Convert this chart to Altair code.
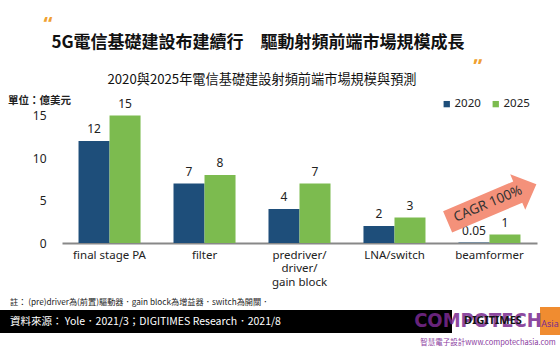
import altair as alt
import pandas as pd

# ---- data ----
categories = ["final stage PA", "filter", "predriver/ driver/ gain block", "LNA/switch", "beamformer"]
years = ["2020", "2025"]
values_2020 = [12, 7, 4, 2, 0.05]
values_2025 = [15, 8, 7, 3, 1]
y_ticks = [0, 5, 10, 15]

title_text = "5G電信基礎建設布建續行　驅動射頻前端市場規模成長"
subtitle_text = "2020與2025年電信基礎建設射頻前端市場規模與預測"
unit_text = "單位：億美元"
note_text = "註： (pre)driver為(前置)驅動器．gain block為增益器．switch為開關．"
source_text = "資料來源： Yole．2021/3；DIGITIMES Research．2021/8"
cagr_text = "CAGR 100%"

rows = []
for c, a, b in zip(categories, values_2020, values_2025):
    rows.append({"category": c, "year": years[0], "value": a})
    rows.append({"category": c, "year": years[1], "value": b})
df = pd.DataFrame(rows)

CJK = "Noto Sans CJK TC"
LAT = "Noto Sans"
BLUE = "#1e4e7a"
GREEN = "#7cbb4f"

label_expr = ("datum.label == 'predriver/ driver/ gain block' ? "
              "['predriver/', 'driver/', 'gain block'] : datum.label")

x_enc = alt.X("category:N", sort=categories,
              scale=alt.Scale(paddingInner=0.347, paddingOuter=0.174),
              axis=alt.Axis(title=None, labelAngle=0, labelFontSize=11.5, labelColor="#222",
                            labelFont=LAT, labelPadding=6, labelLineHeight=13.5,
                            labelExpr=label_expr, domainColor="#888", domainWidth=2,
                            ticks=False, labelBaseline="top"))
y_enc = alt.Y("value:Q", scale=alt.Scale(domain=[0, 16], nice=False),
              axis=alt.Axis(title=None, values=y_ticks, grid=False, domain=False, ticks=False,
                            labelFontSize=12, labelColor="#222", labelFont=LAT, labelPadding=16))

base = alt.Chart(df)
bars = base.mark_bar().encode(
    x=x_enc,
    xOffset=alt.XOffset("year:N", sort=years, scale=alt.Scale(paddingInner=0, paddingOuter=0)),
    y=y_enc,
    color=alt.Color("year:N", sort=years,
                    scale=alt.Scale(domain=years, range=[BLUE, GREEN]),
                    legend=alt.Legend(title=None, orient="none", legendX=379, legendY=-9,
                                      direction="horizontal", symbolType="square",
                                      symbolSize=40, symbolStrokeWidth=0, labelFontSize=11.5,
                                      labelFont=LAT, labelColor="#222", columnPadding=9,
                                      labelOffset=2)),
)
labels = base.mark_text(baseline="bottom", dy=-5, fontSize=12, font=LAT, color="#222").encode(
    x=alt.X("category:N", sort=categories),
    xOffset=alt.XOffset("year:N", sort=years),
    y="value:Q",
    text=alt.Text("value:Q"),
)


def txt(t, x, y, **kw):
    return alt.Chart(pd.DataFrame({"t": [t]})).mark_text(**kw).encode(
        text="t:N", x=alt.value(x), y=alt.value(y))


# arrow shape (unit coords, scaled by sqrt(size)/2)
arrow_path = "M -1 -0.24 L 0.58 -0.24 L 0.58 -0.4 L 1 0 L 0.58 0.4 L 0.58 0.24 L -1 0.24 Z"
arrow = alt.Chart(pd.DataFrame({"t": [cagr_text]})).mark_point(
    shape=arrow_path, filled=True, color="#f4917a", opacity=1, size=9300, angle=337, strokeWidth=0
).encode(x=alt.value(430), y=alt.value(96))

footer_bar = alt.Chart(pd.DataFrame({"t": [""]})).mark_rect(color="#000").encode(
    x=alt.value(-62), x2=alt.value(390), y=alt.value(203), y2=alt.value(226))
asia_box = alt.Chart(pd.DataFrame({"t": [""]})).mark_rect(color="#f08c30").encode(
    x=alt.value(478), x2=alt.value(498), y=alt.value(200), y2=alt.value(228))

layers = [
    bars, labels, arrow,
    txt(cagr_text, 426, 97, fontSize=13.5, font=LAT, color="#333", angle=337),
    txt(title_text, 196, -64, fontSize=17, font=CJK, fontWeight="bold", color="#111"),
    txt(subtitle_text, 200, -27, fontSize=13.2, font=CJK, color="#111"),
    txt("“", -14, -82, fontSize=20, font=LAT, fontWeight="bold", color="#f0a030"),
    txt("„", 416, -52, fontSize=20, font=LAT, fontWeight="bold", color="#f0a030"),
    txt(unit_text, -54, -6, fontSize=10.5, font=CJK, fontWeight="bold", color="#222", align="left"),
    txt(note_text, -52, 196, fontSize=8.2, font=CJK, color="#222", align="left"),
    footer_bar,
    txt(source_text, -52, 215, fontSize=10.5, font=CJK, color="#fff", align="left"),
    asia_box,
    txt("COMPOTECH", 416, 214, fontSize=20, font="DejaVu Sans Condensed", fontWeight="bold",
        color="#7a2a90", opacity=0.85),
    txt("DIGITIMES", 431, 214, fontSize=11, font=LAT, fontWeight="bold", color="#111"),
    txt("Asia", 488, 217, fontSize=9, font=LAT, color="#7a2a90"),
    txt("智慧電子設計www.compotechasia.com", 426, 236, fontSize=7.5, font=CJK, color="#8a3aa0"),
]

chart = alt.layer(*layers).properties(
    width=475, height=136,
    autosize=alt.AutoSizeParams(type="none"),
    padding={"left": 62, "top": 107, "right": 23, "bottom": 107},
    background="white",
).configure_view(stroke=None)

chart.save("out.html", embed_options={"renderer": "svg", "actions": False})
